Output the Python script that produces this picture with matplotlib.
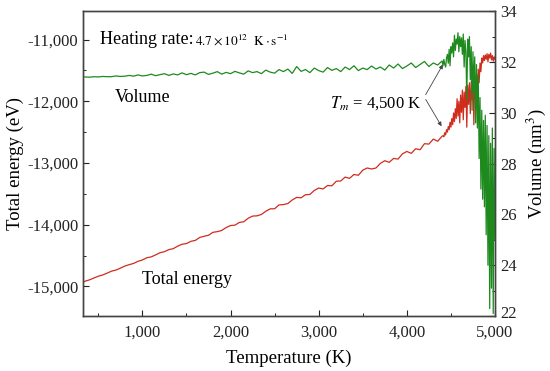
import numpy as np
import matplotlib
matplotlib.use("Agg")
import matplotlib.pyplot as plt
import matplotlib.transforms as mtransforms
from matplotlib.ticker import MultipleLocator, FuncFormatter

plt.rcParams['font.family'] = ['Liberation Serif', 'DejaVu Sans']
plt.rcParams['mathtext.fontset'] = 'stix'

# temperature grid (K): coarse below 4400 K, fine through melting
temp_low = np.arange(300, 4401, 50)
temp_high = np.arange(4410, 5001, 10)
temperature = np.concatenate([temp_low, temp_high])

# total energy (eV)
energy_low = [
    -14945, -14915, -14893, -14864, -14834, -14814, -14784, -14752, -14734, -14704,
    -14670, -14647, -14627, -14593, -14571, -14535, -14521, -14489, -14453, -14437,
    -14403, -14388, -14347, -14316, -14305, -14269, -14254, -14206, -14187, -14171,
    -14123, -14112, -14093, -14046, -14013, -14007, -13963, -13952, -13895, -13860,
    -13856, -13834, -13782, -13743, -13741, -13679, -13674, -13657, -13599, -13558,
    -13564, -13514, -13510, -13445, -13406, -13420, -13365, -13369, -13295, -13292,
    -13228, -13249, -13186, -13199, -13116, -13081, -13097, -13081, -13006, -12963,
    -12989, -12926, -12937, -12852, -12813, -12844, -12769, -12785, -12687, -12694,
    -12613, -12648, -12565,
]
energy_high = [
    -12560, -12575, -12510, -12545, -12460, -12500, -12410, -12460, -12340, -12420,
    -12280, -12380, -12190, -12330, -12120, -12280, -11960, -12240, -12000, -12350,
    -11900, -12180, -11820, -12300, -11850, -12100, -11760, -12420, -11740, -12050,
    -11700, -12200, -11680, -11980, -11650, -12380, -11620, -11900, -11560, -11850,
    -11480, -11700, -11380, -11520, -11300, -11380, -11260, -11340, -11250, -11320,
    -11230, -11360, -11240, -11300, -11220, -11330, -11260, -11350, -11280, -11320,
]

# volume (nm^3)
volume_low = [
    31.40, 31.41, 31.40, 31.42, 31.41, 31.43, 31.42, 31.42, 31.45, 31.43,
    31.44, 31.47, 31.44, 31.49, 31.45, 31.47, 31.52, 31.46, 31.50, 31.54,
    31.47, 31.53, 31.49, 31.57, 31.50, 31.55, 31.49, 31.58, 31.60, 31.51,
    31.56, 31.62, 31.52, 31.59, 31.54, 31.63, 31.57, 31.52, 31.65, 31.58,
    31.62, 31.54, 31.68, 31.60, 31.56, 31.70, 31.62, 31.72, 31.55, 31.82,
    31.63, 31.70, 31.58, 31.76, 31.66, 31.60, 31.78, 31.67, 31.74, 31.62,
    31.80, 31.70, 31.85, 31.66, 31.76, 31.70, 31.84, 31.72, 31.80, 31.68,
    31.88, 31.76, 31.92, 31.74, 31.84, 31.96, 31.78, 31.90, 32.02, 31.82,
    31.96, 31.88, 32.04,
]
volume_high = [
    31.85, 32.10, 31.90, 31.80, 32.15, 32.30, 31.95, 32.50, 31.85, 32.60,
    32.35, 32.75, 32.20, 33.05, 32.45, 32.90, 32.70, 33.15, 32.40, 33.00,
    32.60, 32.95, 32.30, 33.10, 31.80, 32.85, 32.40, 30.50, 32.90, 32.20,
    33.00, 31.30, 32.60, 30.10, 32.40, 30.80, 32.20, 29.60, 31.90, 29.40,
    31.50, 28.20, 30.60, 27.00, 30.10, 26.60, 29.70, 26.30, 29.90, 25.20,
    29.50, 24.00, 29.10, 22.30, 28.80, 23.10, 29.40, 22.10, 28.60, 25.00,
]

energy = np.array(energy_low + energy_high)
volume = np.array(volume_low + volume_high)

fig = plt.figure(figsize=(5.5, 3.71), dpi=100)
ax = fig.add_axes([0.151, 0.148, 0.749, 0.822])
ax2 = ax.twinx()

ax.plot(temperature, energy, color='#d02c1e', lw=0.9)
ax2.plot(temperature, volume, color='#1e8a1e', lw=0.9)

ax.set_xlim(327, 5000)
ax.set_ylim(-15480, -10540)
ax2.set_ylim(22, 34)

thousands = FuncFormatter(lambda v, p: f"{int(v):,}")
ax.xaxis.set_major_locator(MultipleLocator(1000))
ax.xaxis.set_minor_locator(MultipleLocator(500))
ax.xaxis.set_major_formatter(thousands)
ax.yaxis.set_major_locator(MultipleLocator(1000))
ax.yaxis.set_minor_locator(MultipleLocator(500))
ax.yaxis.set_major_formatter(thousands)
ax2.yaxis.set_major_locator(MultipleLocator(2))
ax2.yaxis.set_minor_locator(MultipleLocator(1))

for a in (ax, ax2):
    a.tick_params(which='both', direction='in', labelsize=12, colors='#222')
    a.tick_params(which='major', length=4, width=0.8)
    a.tick_params(which='minor', length=2.5, width=0.7)
    for s in a.spines.values():
        s.set_color('#444')
        s.set_linewidth(1.0)
ax.tick_params(axis='x', pad=6)

ax.set_xlabel('Temperature (K)', fontsize=13.5, labelpad=6.5)
ax.set_ylabel('Total energy (eV)', fontsize=13.5, labelpad=2)
ax2.set_ylabel('Volume (nm$^3$)', fontsize=13.5, labelpad=6)

ax.text(520, -11080, 'Heating rate:', fontsize=13, va='baseline')
ax.text(1600, -11080, r'$4.7\times10^{12}\ \ \mathrm{K}\cdot\mathrm{s}^{-1}$',
        fontsize=9.5, va='baseline')
ax.text(690, -12010, 'Volume', fontsize=13, va='baseline')
ax.text(992, -14968, 'Total energy', fontsize=13, va='baseline')
ax.text(3131, -12110, r'$T_m$ = 4,500 K', fontsize=12, va='baseline')

arrow = dict(arrowstyle='-|>', lw=0.6, color='#444', mutation_scale=6)
ax.annotate('', xy=(4425, -11365), xytext=(4198, -11932), arrowprops=arrow)
ax.annotate('', xy=(4410, -12444), xytext=(4198, -11932), arrowprops=arrow)

# lift the bottom right-hand label ("22") a touch so it clears "5,000"
fig.canvas.draw()
lift = mtransforms.ScaledTranslation(0, 3 / 72, fig.dpi_scale_trans)
for tick in ax2.yaxis.get_major_ticks():
    if abs(tick.get_loc() - 22) < 1e-6:
        tick.label2.set_transform(tick.label2.get_transform() + lift)

fig.savefig('out.png', dpi=100)
